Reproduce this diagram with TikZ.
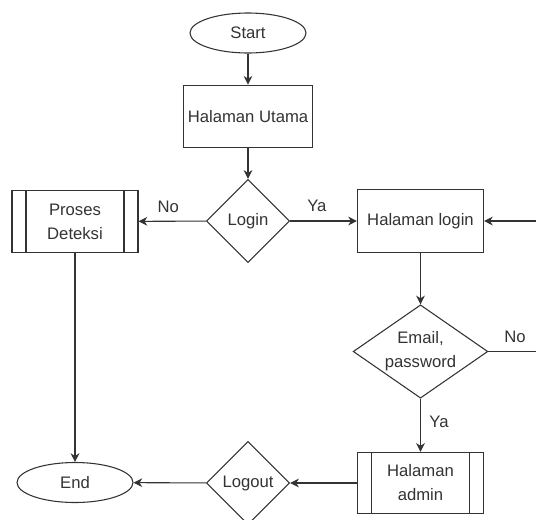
\documentclass[tikz,border=0pt]{standalone}
\usepackage{fontspec}
\setmainfont{Liberation Sans}
\usetikzlibrary{shapes.geometric,arrows.meta}
\begin{document}
\begin{tikzpicture}[
  x=0.75pt, y=-0.75pt,
  every node/.style={font=\fontsize{12.5}{18}\selectfont, text=black!80},
  term/.style={ellipse, draw=black!80, line width=0.8pt, minimum width=87pt, minimum height=30pt, inner sep=0pt},
  proc/.style={rectangle, draw=black!80, line width=0.8pt, minimum width=94.5pt, minimum height=47pt, align=center},
  sub/.style={proc, path picture={
    \draw[draw=black!80, line width=0.8pt]
      ([xshift=10.5pt]path picture bounding box.north west) -- ([xshift=10.5pt]path picture bounding box.south west)
      ([xshift=-10.5pt]path picture bounding box.north east) -- ([xshift=-10.5pt]path picture bounding box.south east);}},
  dec/.style={diamond, draw=black!80, line width=0.8pt, aspect=1, minimum width=62.5pt, minimum height=62.5pt, inner sep=0pt, align=center},
  e/.style={draw=black!80, line width=0.8pt, -{Stealth[length=6.5pt,width=6.5pt,inset=2pt]}},
  l/.style={draw=black!80, line width=0.8pt}
]
\clip (0,0) rectangle (536,519);

% main column
\node[term] (start) at (248,33) {Start};
\node[proc] (utama) at (248,116.5) {Halaman Utama};
\node[dec] (login) at (248,221) {Login};

% left branch
\node[sub] (deteksi) at (75,221.5) {Proses\\Deteksi};
\node[term] (end) at (75,482.5) {End};

% right branch
\node[proc] (hlogin) at (420.5,221) {Halaman login};
\node[dec, aspect=1.45, minimum width=101pt, minimum height=70pt] (cek) at (420.5,351.5) {Email,\\password};
\node[sub, minimum height=46pt] (admin) at (420.5,483) {Halaman\\admin};
\node[dec] (logout) at (248,483) {Logout};

\coordinate (r1) at (536,221);
\coordinate (r2) at (536,351.5);

\draw[e] (start) -- (utama);
\draw[e] (utama) -- (login);
\draw[e] (login) -- node[pos=0.56, above=3pt] {No} (deteksi);
\draw[e] (login) -- node[pos=0.4, above=3pt] {Ya} (hlogin);
\draw[e] (deteksi) -- (end);
\draw[e] (hlogin) -- (cek);
\draw[l] (cek) -- node[pos=0.56, above=3pt] {No} (r2);
\draw[e] (r1) -- (hlogin);
\draw[e] (cek) -- node[pos=0.44, right=3pt] {Ya} (admin);
\draw[e] (admin) -- (logout);
\draw[e] (logout) -- (end);
\end{tikzpicture}
\end{document}
